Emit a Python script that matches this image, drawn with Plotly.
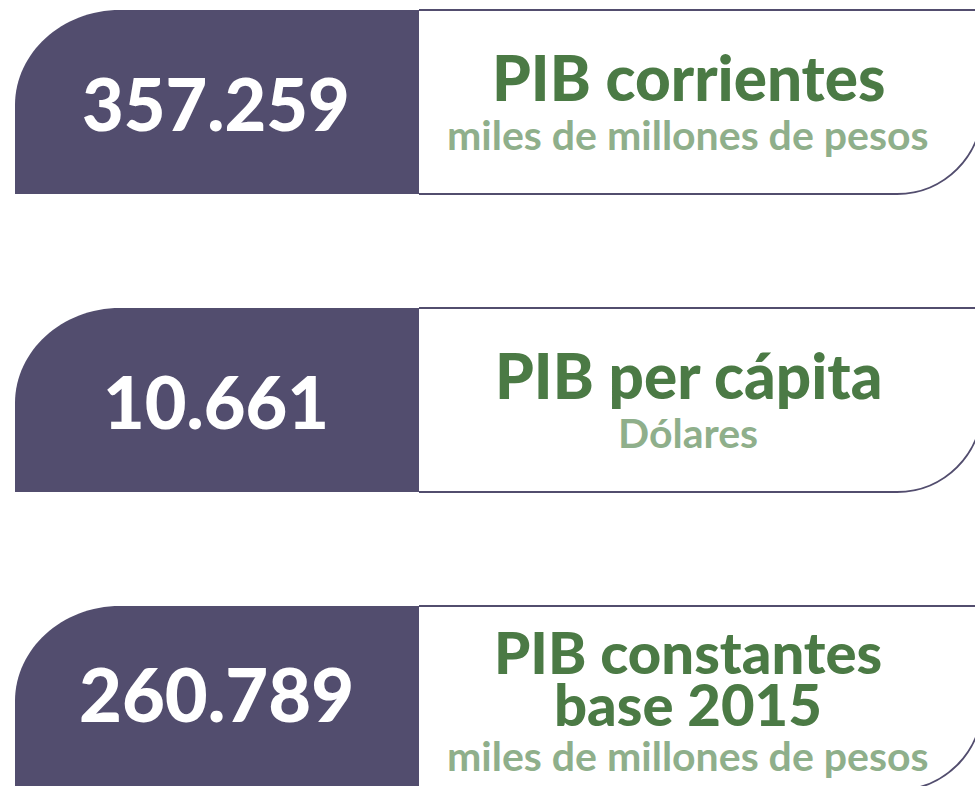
import plotly.graph_objects as go

# ## Data

valores = [357259, 10661, 260789]
titulos = ["PIB corrientes", "PIB per cápita", "PIB constantes<br>base 2015"]
unidades = ["miles de millones de pesos", "Dólares", "miles de millones de pesos"]

MORADO = "#524D6E"
VERDE = "#4B7A45"
VERDE_CLARO = "#8FAF8B"
FUENTE = "Lato"


def fmt(v):
    return f"{v:,}".replace(",", ".")


def card_shapes(t, b):
    # dark block on the left, rounded top-left corner
    izq = (f"M 15 {b} L 15 {t+95} C 15 {t+43} 62 {t} 120 {t} "
           f"L 419 {t} L 419 {b} Z")
    # white block with outline, rounded bottom-right corner
    der = (f"M 419 {t} L 990 {t} M 982 {b-85} "
           f"C 982 {b-38} 944 {b} 897 {b} L 419 {b}")
    return [
        dict(type="path", path=izq, fillcolor=MORADO, line=dict(width=0),
             xref="x", yref="y", layer="below"),
        dict(type="path", path=der, line=dict(color=MORADO, width=2),
             xref="x", yref="y", layer="below"),
    ]


def texto(x, y, s, size, color, weight):
    return dict(x=x, y=y, text=s, showarrow=False, xref="x", yref="y",
                xanchor="center", yanchor="middle",
                font=dict(family=FUENTE, size=size, color=color, weight=weight))


fig = go.Figure()
fig.add_trace(go.Scatter(x=[0, 975], y=[0, 786], mode="markers",
                         marker=dict(opacity=0), hoverinfo="skip", showlegend=False))

tops = [10, 308, 606]
alto = 184
shapes = []
annotations = []
for i, v in enumerate(valores):
    t = tops[i]
    b = t + alto
    shapes += card_shapes(t, b)
    lineas = titulos[i].split("<br>")
    if len(lineas) > 1:
        annotations.append(texto(216, t + 87, fmt(v), 74, "white", 900))
        for k, ln in enumerate(lineas):
            annotations.append(texto(688, t + 45 + 52 * k, ln, 58, VERDE, 900))
        annotations.append(texto(688, t + 149, unidades[i], 41, VERDE_CLARO, 700))
    else:
        annotations.append(texto(216, t + 93, fmt(v), 72, "white", 900))
        annotations.append(texto(688, t + 67, lineas[0], 62, VERDE, 900))
        annotations.append(texto(688, t + 124, unidades[i], 41, VERDE_CLARO, 700))

fig.update_layout(
    width=975, height=786,
    margin=dict(l=0, r=0, t=0, b=0),
    paper_bgcolor="white", plot_bgcolor="white",
    xaxis=dict(range=[0, 975], visible=False, fixedrange=True),
    yaxis=dict(range=[786, 0], visible=False, fixedrange=True),
    shapes=shapes, annotations=annotations,
)

fig.write_html("out.html", config={"displayModeBar": False},
               post_script="document.body.style.margin='0';")
